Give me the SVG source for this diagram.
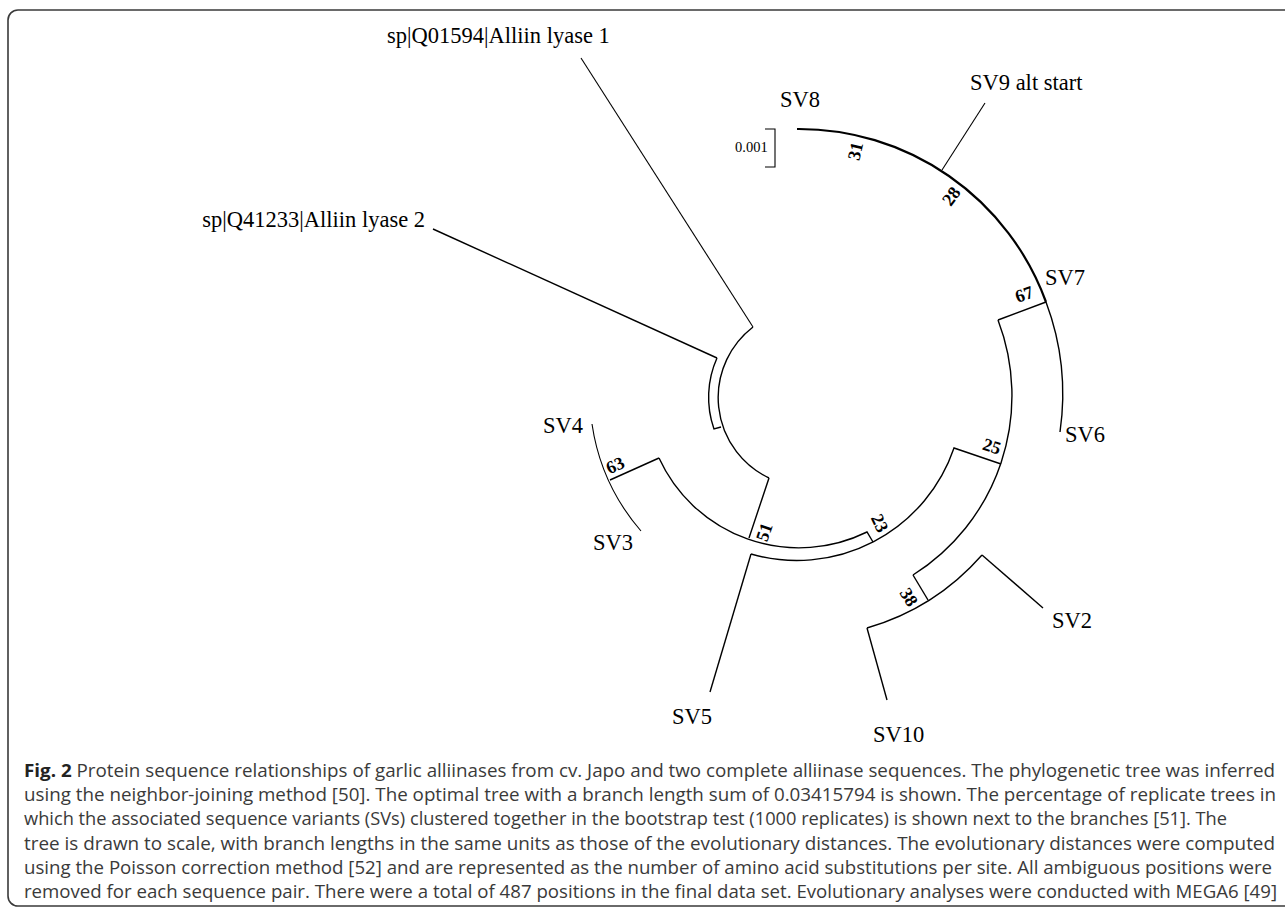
<svg xmlns="http://www.w3.org/2000/svg" width="1285" height="909" viewBox="0 0 1285 909">
<style>
.br{fill:none;stroke:#000;stroke-width:1.4;stroke-linecap:butt}
.thk{stroke-width:2.2}
.thin{stroke-width:1.1}
.leaf{font-family:"Liberation Serif",serif;font-size:22.5px;fill:#000}
.bs{font-family:"Liberation Serif",serif;font-size:18px;font-weight:bold;fill:#000;text-anchor:middle}
.sc{font-family:"Liberation Serif",serif;font-size:14.5px;fill:#000}
.cap{font-family:"Open Sans",sans-serif;font-size:18.5px;fill:#3a3a3a}
</style>
<rect x="8" y="10" width="1300" height="896" rx="10" fill="none" stroke="#3a3a3a" stroke-width="1.6"/>
<g id="connectors">
<path class="br thin" d="M581,58 L753,327"/>
<path class="br" d="M433,229 L717,358"/>
<path class="br" d="M753,327 A89,89 0 0 0 769,478"/>
<path class="br" d="M717,358 A96,96 0 0 0 714,429 L721,427"/>
<path class="br" d="M769,478 L749,538"/>
<path class="br" d="M659,458 A154,154 0 0 0 867,532 L873,542"/>
<path class="br" d="M659,458 L610,480"/>
<path class="br thin" d="M592,424 A210,210 0 0 0 641,531"/>
<path class="br" d="M751,554 A166,166 0 0 0 954,448 L1001,464"/>
<path class="br" d="M751,554 L710,692"/>
<path class="br" d="M998,320 A212,212 0 0 1 913,575"/>
<path class="br" d="M998,320 L1046,302"/>
<path class="br" d="M913,575 L928,600"/>
<path class="br" d="M867,628 A243,243 0 0 0 982,555"/>
<path class="br" d="M867,628 L887,700"/>
<path class="br" d="M982,555 L1043,608"/>
<path class="br thk" d="M797,129 A263,263 0 0 1 1046,302"/>
<path class="br" d="M1046,302 A263,263 0 0 1 1060,432"/>
<path class="br thin" d="M942,170 L985,103"/>
</g>
<g id="scale">
<path class="br thin" d="M765,129 H775 V167 H765"/>
<text class="sc" x="735" y="152">0.001</text>
</g>
<g id="lyase1"><text class="leaf" x="387" y="43">sp|Q01594|Alliin lyase 1</text></g>
<g id="lyase2"><text class="leaf" x="425" y="227" text-anchor="end">sp|Q41233|Alliin lyase 2</text></g>
<g id="SV8"><text class="leaf" x="780" y="107">SV8</text></g>
<g id="SV9"><text class="leaf" x="970" y="90">SV9 alt start</text></g>
<g id="SV7"><text class="leaf" x="1045" y="285">SV7</text></g>
<g id="SV6"><text class="leaf" x="1065" y="442">SV6</text></g>
<g id="SV2"><text class="leaf" x="1052" y="628">SV2</text></g>
<g id="SV10"><text class="leaf" x="873" y="742">SV10</text></g>
<g id="SV5"><text class="leaf" x="692" y="724" text-anchor="middle">SV5</text></g>
<g id="SV3"><text class="leaf" x="593" y="550">SV3</text></g>
<g id="SV4"><text class="leaf" x="583" y="433" text-anchor="end">SV4</text></g>
<g id="n31"><text class="bs" transform="translate(855,151) rotate(-77)" dy="0.35em">31</text></g>
<g id="n28"><text class="bs" transform="translate(951,196) rotate(-53)" dy="0.35em">28</text></g>
<g id="n67"><text class="bs" transform="translate(1024,294) rotate(-20)" dy="0.35em">67</text></g>
<g id="n25"><text class="bs" transform="translate(992,446) rotate(18)" dy="0.35em">25</text></g>
<g id="n23"><text class="bs" transform="translate(880,523) rotate(64)" dy="0.35em">23</text></g>
<g id="n38"><text class="bs" transform="translate(909,597) rotate(58)" dy="0.35em">38</text></g>
<g id="n51"><text class="bs" transform="translate(764,532) rotate(-71)" dy="0.35em">51</text></g>
<g id="n63"><text class="bs" transform="translate(615,465) rotate(-25)" dy="0.35em">63</text></g>
<g id="caption">
<text class="cap" x="24" y="777" textLength="1251" lengthAdjust="spacingAndGlyphs"><tspan font-weight="bold" fill="#222">Fig. 2</tspan> Protein sequence relationships of garlic alliinases from cv. Japo and two complete alliinase sequences. The phylogenetic tree was inferred</text>
<text class="cap" x="24" y="801.2" textLength="1252" lengthAdjust="spacingAndGlyphs">using the neighbor-joining method [50]. The optimal tree with a branch length sum of 0.03415794 is shown. The percentage of replicate trees in</text>
<text class="cap" x="24" y="825.4" textLength="1203" lengthAdjust="spacingAndGlyphs">which the associated sequence variants (SVs) clustered together in the bootstrap test (1000 replicates) is shown next to the branches [51]. The</text>
<text class="cap" x="24" y="849.6" textLength="1251" lengthAdjust="spacingAndGlyphs">tree is drawn to scale, with branch lengths in the same units as those of the evolutionary distances. The evolutionary distances were computed</text>
<text class="cap" x="24" y="873.8" textLength="1248" lengthAdjust="spacingAndGlyphs">using the Poisson correction method [52] and are represented as the number of amino acid substitutions per site. All ambiguous positions were</text>
<text class="cap" x="24" y="898" textLength="1253" lengthAdjust="spacingAndGlyphs">removed for each sequence pair. There were a total of 487 positions in the final data set. Evolutionary analyses were conducted with MEGA6 [49]</text>
</g>
</svg>
